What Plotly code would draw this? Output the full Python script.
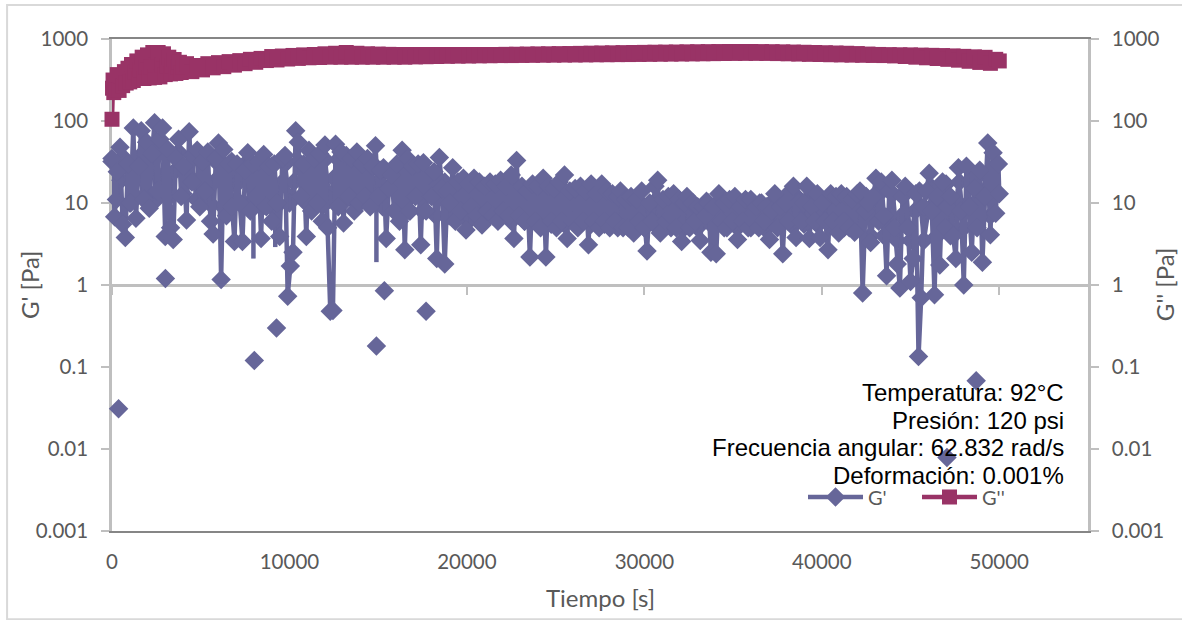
import plotly.graph_objects as go

G1_T = [
0,150,300,450,600,750,900,1050,1200,1350,
1500,1650,1800,1950,2100,2250,2400,2550,2700,2850,
3000,3150,3300,3450,3600,3750,3900,4050,4200,4350,
4500,4650,4800,4950,5100,5250,5400,5550,5700,5850,
6000,6150,6300,6450,6600,6750,6900,7050,7200,7350,
7500,7650,7800,7950,8100,8250,8400,8550,8700,8850,
9000,9150,9300,9450,9600,9750,9900,10050,10200,10350,
10500,10650,10800,10950,11100,11250,11400,11550,11700,11850,
12000,12150,12300,12450,12600,12750,12900,13050,13200,13350,
13500,13650,13800,13950,14100,14250,14400,14550,14700,14850,
15000,15150,15300,15450,15600,15750,15900,16050,16200,16350,
16500,16650,16800,16950,17100,17250,17400,17550,17700,17850,
18000,18150,18300,18450,18600,18750,18900,19050,19200,19350,
19500,19650,19800,19950,20100,20250,20400,20550,20700,20850,
21000,21150,21300,21450,21600,21750,21900,22050,22200,22350,
22500,22650,22800,22950,23100,23250,23400,23550,23700,23850,
24000,24150,24300,24450,24600,24750,24900,25050,25200,25350,
25500,25650,25800,25950,26100,26250,26400,26550,26700,26850,
27000,27150,27300,27450,27600,27750,27900,28050,28200,28350,
28500,28650,28800,28950,29100,29250,29400,29550,29700,29850,
30000,30150,30300,30450,30600,30750,30900,31050,31200,31350,
31500,31650,31800,31950,32100,32250,32400,32550,32700,32850,
33000,33150,33300,33450,33600,33750,33900,34050,34200,34350,
34500,34650,34800,34950,35100,35250,35400,35550,35700,35850,
36000,36150,36300,36450,36600,36750,36900,37050,37200,37350,
37500,37650,37800,37950,38100,38250,38400,38550,38700,38850,
39000,39150,39300,39450,39600,39750,39900,40050,40200,40350,
40500,40650,40800,40950,41100,41250,41400,41550,41700,41850,
42000,42150,42300,42450,42600,42750,42900,43050,43200,43350,
43500,43650,43800,43950,44100,44250,44400,44550,44700,44850,
45000,45150,45300,45450,45600,45750,45900,46050,46200,46350,
46500,46650,46800,46950,47100,47250,47400,47550,47700,47850,
48000,48150,48300,48450,48600,48750,48900,49050,49200,49350,
49500,49650,49800,49950,50000,
]
G1_V = [
35,6.8,24,48,5.5,3.8,30,10,82,6.5,
28,76,11,55,8.6,40,95,14,60,82,
3.9,45,5,3.6,35,60,12,28,6.2,74,
18,40,44,9,32,14,42,6,4.2,35,
54,1.17,45,7,30,9,3.4,30,10,3.4,
25,41,8,30,12,32,3.7,39,9,28,
6,30,10,3.9,35,38,0.73,1.7,2.5,76,
55,12,30,3.9,44,8,35,10,40,6,
51,5,0.48,0.49,52,9,42,5.7,38,12,
35,8,42,10,30,12,35,9,28,50,
12,25,27,3.7,15,22,8,30,6,44,
2.7,35,8,28,12,30,3.1,31,8,22,
12,24,2.1,36,15,1.8,14,10,27,6,
18,8,20,4.7,17,9,20,7,18,5.4,
16,8,18,7,17,6,19,8,16,7,
22,3.7,33,7,16,6,14,2.2,17,6,
16,5,20,2.2,16,6,15,5,18,6,
22,3.7,14,6,15,5,16,6,14,3.1,
17,6,13,5,17,6,14,5,13,6,
12,14,5,11,5,12,4.3,11,6,14,
5,2.6,10,6,16,19,4.3,11,6,12,
7,13,5,11,3.4,10,12,5,10,6,
9,3.5,9,7,10,2.5,9,2.4,13,6,
10,5,11,6,12,3.6,9,6,11,5,
11,6,9,5,10,6,9,3.6,8,13,
5,9,2.4,10,6,14,16,3.8,10,6,
10,16,3.7,9,6,13,3.8,10,6,2.7,
13,6,12,4.3,13,6,12,5,11,4.4,
13,14,0.8,8,10,3.3,12,20,6,18,
7,1.3,14,19,5,1.8,0.92,12,16,5,
1.1,2.1,13,0.134,0.7,9,14,23,8,0.76,
12,1.75,18,5,9,12,4,2.1,27,8,
1,28,9,2.5,15,5,25,1.9,12,54,
4.1,41,7.5,30,13,
]

G1_BODY_T = [
0,250,500,750,1000,1250,1500,1750,2000,2250,
2500,2750,3000,3250,3500,3750,4000,4250,4500,4750,
5000,5250,5500,5750,6000,6250,6500,6750,7000,7250,
7500,7750,8000,8250,8500,8750,9000,9250,9500,9750,
10000,10250,10500,10750,11000,11250,11500,11750,12000,12250,
12500,12750,13000,13250,13500,13750,14000,14250,14500,14750,
15000,15250,15500,15750,16000,16250,16500,16750,17000,17250,
17500,17750,18000,18250,18500,18750,19000,19250,19500,19750,
20000,20250,20500,20750,21000,21250,21500,21750,22000,22250,
22500,22750,23000,23250,23500,23750,24000,24250,24500,24750,
25000,25250,25500,25750,26000,26250,26500,26750,27000,27250,
27500,27750,28000,28250,28500,28750,29000,29250,29500,29750,
30000,30250,30500,30750,31000,31250,31500,31750,32000,32250,
32500,32750,33000,33250,33500,33750,34000,34250,34500,34750,
35000,35250,35500,35750,36000,36250,36500,36750,37000,37250,
37500,37750,38000,38250,38500,38750,39000,39250,39500,39750,
40000,40250,40500,40750,41000,41250,41500,41750,42000,42250,
42500,42750,43000,43250,43500,43750,44000,44250,44500,44750,
45000,45250,45500,45750,46000,46250,46500,46750,47000,47250,
47500,47750,48000,48250,48500,48750,49000,49250,49500,49750,
]
G1_BODY_V = [
32,11,19,34,10,18,36,12,22,38,
11,20,40,12,24,42,13,22,38,11,
20,35,10,18,30,9,17,32,11,19,
30,10,18,31,9,16,28,9,17,30,
10,18,32,11,19,33,12,20,34,11,
20,34,10,18,30,10,17,28,11,16,
26,9,15,24,8,14,24,8,15,22,
8,13,20,7,13,18,7,12,17,7,
14,6.5,10,14,6,10,13,6.5,9.5,14,
6,10,13,6,9.5,13,6,9,12,5.5,
9,12,5.5,9,12,6,9,11.5,5.5,8.5,
11,5.5,8,11,5,8,10,5,8,10,
5,8,10,5,8,10,5,8,10,5,
8,10,5,8,10.5,5.5,8,10,5,8,
10,5,8,10,5,8,10,5,8,10.5,
5.5,8,11,5.5,8,11,5.5,8,11,5.5,
8,11,5.5,8,11,5,8,11,5,8,
12,4,7,13,4,7,13,3.5,7,14,
3.5,8,14,3.5,8,15,4,9,17,4,
9,18,5,10,20,6,11,22,7,12,
]

G1_ISOLATED_T = [370,3010,8020,9270,14900,15350,17700,47050,48700]
G1_ISOLATED_V = [0.031,1.2,0.12,0.30,0.18,0.85,0.48,0.0079,0.068]

G1_DIP_T = [7970,7970,None,9200,9200,None,14900,14900]
G1_DIP_V = [10,2.1,None,10,2.9,None,10,1.9]

G2_T = [
0,30,60,100,150,200,300,400,500,600,700,800,900,
1000,1100,1200,1300,1400,1500,1600,1700,1800,1900,
2000,2100,2200,2300,2400,2500,2600,2700,2800,2900,
3000,3100,3200,3300,3400,3500,3600,3700,3800,3900,4000,
4200,4500,4800,5100,5400,5700,6000,6300,6600,6900,7200,7500,7800,8100,8400,8700,
9000,9300,9600,9900,10200,10500,10800,11100,11400,11700,12000,12300,12600,12900,
13200,13500,13800,14100,14400,14700,15000,15300,15600,15900,
16200,16500,16800,17100,17400,17700,18000,18300,18600,18900,
19200,19500,19800,20100,20400,20700,21000,21300,21600,21900,
22200,22500,22800,23100,23400,23700,24000,24300,24600,24900,
25200,25500,25800,26100,26400,26700,27000,27300,27600,27900,
28200,28500,28800,29100,29400,29700,30000,30300,30600,30900,
31200,31500,31800,32100,32400,32700,33000,33300,33600,33900,
34200,34500,34800,35100,35400,35700,36000,36300,36600,36900,
37200,37500,37800,38100,38400,38700,39000,39300,39600,39900,
40200,40500,40800,41100,41400,41700,42000,42300,42600,42900,
43200,43500,43800,44100,44400,44700,45000,45300,45600,45900,
46200,46500,46800,47100,47400,47700,48000,48300,48600,48900,
49200,49500,49800,50000,
]
G2_V = [
105,251,316,222,300,240,368,236,350,270,400,290,440,
300,489,312,400,540,330,420,600,330,450,
640,335,460,685,340,480,685,345,480,660,
368,470,600,375,470,562,380,460,520,390,450,
500,400,475,420,500,445,515,460,530,480,545,500,565,520,580,546,
611,555,620,570,630,580,640,590,647,595,660,600,670,600,
685,600,670,600,660,600,655,600,650,600,
647,600,647,605,647,608,647,612,647,615,
647,618,647,620,647,623,647,625,647,628,
650,628,652,630,655,632,658,634,660,635,
663,637,665,638,668,640,672,642,675,643,
678,645,682,646,685,648,687,650,690,652,
692,654,694,656,697,658,699,660,701,663,
703,665,704,667,704,668,704,668,702,667,
700,664,697,660,693,655,689,650,685,647,
680,643,675,640,670,636,664,633,655,630,
648,628,645,622,642,612,640,600,636,590,
632,578,628,565,622,552,614,535,606,518,
598,505,565,540,
]

Y_TICKS = [0.001,0.01,0.1,1,10,100,1000]
Y_LABELS = ['0.001','0.01','0.1','1','10','100','1000']
X_TICKS = [0,10000,20000,30000,40000,50000]
X_LABELS = ['0','10000','20000','30000','40000','50000']
NOTE = ['Temperatura: 92°C','Presión: 120 psi','Frecuencia angular: 62.832 rad/s','Deformación: 0.001%']
NOTE_Y = [0.2825,0.2256,0.1707,0.1138]

C1 = '#666699'
C2 = '#993366'
TXT = '#595959'
LIGHT = '#BFBFBF'
DARK = '#868686'
FONT = 'Lato'
LW = 4.5

fig = go.Figure()
fig.add_trace(go.Scatter(x=G1_DIP_T, y=G1_DIP_V, mode='lines', line=dict(color=C1, width=LW),
                         showlegend=False, hoverinfo='skip', cliponaxis=False))
fig.add_trace(go.Scatter(x=G1_BODY_T, y=G1_BODY_V, mode='lines+markers', showlegend=False,
                         line=dict(color=C1, width=LW), cliponaxis=False,
                         marker=dict(symbol='diamond', size=15, color=C1, line=dict(width=0))))
fig.add_trace(go.Scatter(x=G1_T, y=G1_V, mode='lines+markers', name="G'", cliponaxis=False,
                         line=dict(color=C1, width=LW),
                         marker=dict(symbol='diamond', size=15, color=C1, line=dict(width=0))))
fig.add_trace(go.Scatter(x=G1_ISOLATED_T, y=G1_ISOLATED_V, mode='markers', showlegend=False, cliponaxis=False,
                         marker=dict(symbol='diamond', size=15, color=C1, line=dict(width=0))))
fig.add_trace(go.Scatter(x=G2_T, y=G2_V, mode='lines+markers', name="G''", xaxis='x2', yaxis='y2',
                         cliponaxis=False, line=dict(color=C2, width=LW),
                         marker=dict(symbol='square', size=15, color=C2, line=dict(width=0))))

tickfont = dict(family=FONT, size=20.5, color=TXT)
titlefont = dict(family=FONT, size=24, color=TXT)
ann = [dict(text=t, xref='paper', yref='paper', x=0.9775, y=y, xanchor='right', yanchor='middle',
            align='right', showarrow=False, font=dict(family='Liberation Sans', size=24, color='#000000'))
       for t, y in zip(NOTE, NOTE_Y)]
ann += [
    dict(text='Tiempo [s]', xref='paper', yref='paper', x=0.5, y=-0.136, xanchor='center', yanchor='middle',
         showarrow=False, font=titlefont),
    dict(text="G' [Pa]", xref='paper', yref='paper', x=-0.0850, y=0.5, xanchor='center', yanchor='middle',
         textangle=-90, showarrow=False, font=titlefont),
    dict(text="G'' [Pa]", xref='paper', yref='paper', x=1.0780, y=0.5, xanchor='center', yanchor='middle',
         textangle=-90, showarrow=False, font=titlefont),
]
fig.update_layout(
    width=1182, height=620, autosize=False,
    margin=dict(l=112, r=94, t=39, b=89),
    paper_bgcolor='white', plot_bgcolor='white',
    font=dict(family=FONT, color=TXT),
    showlegend=True,
    legend=dict(orientation='h', x=0.708, y=0.069, xanchor='left', yanchor='middle',
                itemwidth=55, entrywidth=44, entrywidthmode='pixels',
                bgcolor='rgba(0,0,0,0)', font=dict(family=FONT, size=20, color=TXT),
                traceorder='normal'),
    xaxis=dict(range=[0, 55000], anchor='free', position=0.5, showgrid=False, zeroline=False,
               showline=True, linecolor=LIGHT, linewidth=2.5, tickmode='array', tickvals=X_TICKS,
               ticks='outside', ticklen=8, tickwidth=2, tickcolor=LIGHT, showticklabels=False,
               layer='below traces'),
    xaxis2=dict(range=[0, 55000], overlaying='x', anchor='y2', side='bottom', showgrid=False,
                zeroline=False, showline=True, linecolor=DARK, linewidth=2, mirror=True,
                tickmode='array', tickvals=X_TICKS, ticktext=X_LABELS, ticks='', showticklabels=True,
                ticklabelstandoff=11, tickfont=tickfont, layer='below traces'),
    yaxis=dict(type='log', range=[-3, 3], side='left', anchor='x', showgrid=False, zeroline=False,
               showline=True, linecolor=LIGHT, linewidth=2.5, tickmode='array', tickvals=Y_TICKS,
               ticktext=Y_LABELS, ticks='outside', ticklen=8, tickwidth=2, tickcolor=LIGHT,
               ticklabelstandoff=9, tickfont=tickfont, layer='below traces'),
    yaxis2=dict(type='log', range=[-3, 3], side='right', overlaying='y', anchor='x2', showgrid=False,
                zeroline=False, showline=True, linecolor=LIGHT, linewidth=2.5, tickmode='array',
                tickvals=Y_TICKS, ticktext=Y_LABELS, ticks='outside', ticklen=8, tickwidth=2,
                tickcolor=LIGHT, ticklabelstandoff=9, tickfont=tickfont, layer='below traces'),
    annotations=ann,
    shapes=[dict(type='rect', xref='paper', yref='paper', x0=-0.1075, x1=1.2, y0=-0.1795, y1=1.0691,
                 line=dict(color='#D9D9D9', width=2), layer='below')],
)
fig.write_html('out.html', config=dict(displayModeBar=False),
               post_script="document.body.style.margin='0';")
